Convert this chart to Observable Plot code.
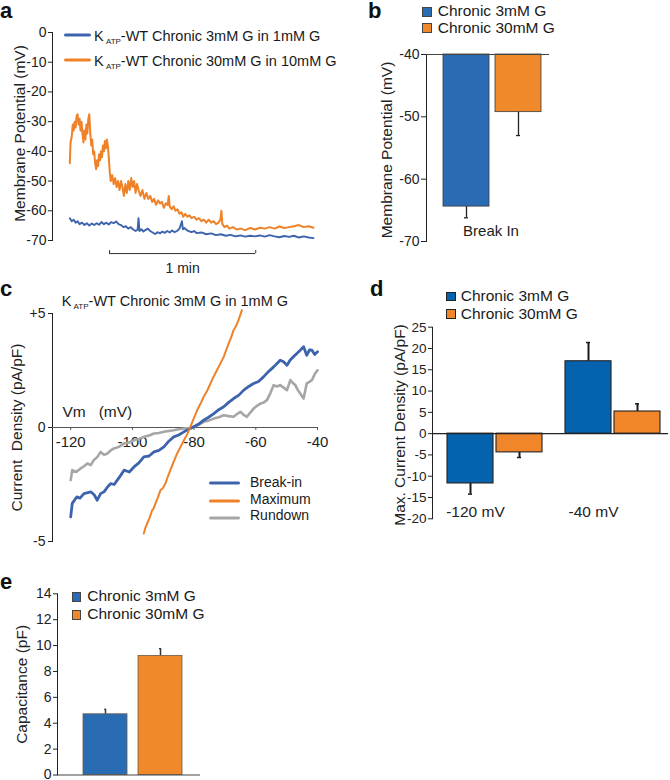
<!DOCTYPE html>
<html><head><meta charset="utf-8">
<script src="https://cdn.jsdelivr.net/npm/d3@7"></script>
<script src="https://cdn.jsdelivr.net/npm/@observablehq/plot@0.6"></script>
<style>
body{margin:0;background:#fff;}
#root{position:relative;width:670px;height:780px;overflow:hidden;background:#fff;font-family:"Liberation Sans",Arial,sans-serif;color:#1a1a1a;}
.t{position:absolute;white-space:nowrap;line-height:1;transform:translateY(-50%);}
.lbl{position:absolute;font-weight:bold;font-size:22px;line-height:1;color:#111;}
.sw{position:absolute;box-sizing:border-box;border:1px solid #444;}
.ln{position:absolute;height:3px;border-radius:1.5px;transform:translateY(-50%);}
.sub{font-size:8px;position:relative;top:3px;}
</style></head><body><div id="root"></div>
<script>
// ---------- DATA ----------
// Panel a: membrane potential traces [time (s), mV]
const traceA3 = [[0,-62.5],[0.8,-63.5],[1.6,-63],[2.4,-64],[3.2,-63.5],[4,-64.5],[5,-64],[6,-64.8],[7,-64.2],[8,-65],[9,-64.3],[10,-64.8],[11,-64.2],[12,-64.7],[13,-63.8],[14,-64.5],[15,-64],[16,-64.6],[17,-63.8],[18,-64.2],[19,-63.6],[20,-64.5],[21,-64.8],[22,-65.5],[23,-65.2],[24,-66],[25,-65.5],[26,-66.3],[27,-66.8],[27.8,-66.4],[28.2,-62.5],[28.6,-66.8],[29.4,-66.2],[30.2,-67],[31,-66.5],[32,-66],[33,-66.8],[34,-67.3],[35,-67.8],[36,-67.2],[37,-67.6],[38,-67],[39,-67.4],[40,-66.8],[41,-67.3],[42,-66.6],[43,-67.2],[44,-66.8],[45,-66],[46,-63.5],[46.4,-66.2],[47,-65.8],[48,-66.5],[49,-66.9],[50,-67.2],[51,-66.8],[52,-67.5],[54,-67.3],[56,-67.9],[58,-67.6],[60,-68.2],[62,-67.9],[64,-68.4],[66,-68.1],[68,-68.6],[70,-68.3],[72,-68.7],[74,-68.4],[76,-68.6],[78,-68.3],[80,-68.7],[82,-68.2],[84,-68.6],[86,-68.9],[88,-68.5],[90,-68.8],[92,-68.4],[94,-69],[96,-68.6],[98,-69],[100,-69.2]];
const traceA30 = [[0,-44],[0.3,-37],[0.8,-35],[1.2,-31],[1.6,-33],[2,-30],[2.4,-32],[2.8,-28],[3.2,-27.5],[3.6,-31],[4,-29],[4.4,-33],[4.8,-30],[5.2,-34],[5.6,-37],[6,-33],[6.4,-36],[6.8,-31],[7.2,-34],[7.6,-29],[8,-27.5],[8.4,-34],[8.8,-38],[9.2,-36],[9.6,-41],[10,-40],[10.4,-44],[10.8,-46],[11.2,-43],[11.6,-45],[12,-41],[12.4,-43],[12.8,-40],[13.2,-42],[13.6,-38],[14,-40],[14.4,-36.5],[14.8,-39],[15.2,-36],[15.6,-38],[16,-42],[16.4,-47],[16.8,-50],[17.4,-48],[18,-51],[18.6,-49],[19.2,-52],[19.8,-50],[20.4,-53],[21,-50],[21.6,-52],[22.2,-55],[22.8,-51],[23.4,-54],[24,-50],[24.6,-53],[25.2,-49],[25.8,-52],[26.4,-50],[27,-54],[27.6,-51],[28.2,-53],[29,-55],[29.8,-53],[30.6,-56],[31.4,-54],[32.2,-56],[33,-55],[33.8,-57],[34.6,-56],[35.4,-58],[36.2,-56.5],[37,-57.5],[37.8,-57],[38.6,-59],[39.4,-57.5],[40.2,-58],[40.6,-55],[41,-58.5],[41.8,-59.5],[42.6,-58.5],[43.4,-60],[44.2,-59.5],[45,-61],[45.8,-60.5],[46.6,-62],[47.4,-61],[48.2,-62],[49,-61.5],[50,-62.5],[51,-62],[52,-63],[53,-62.5],[54,-63.5],[55,-63],[56,-64],[57,-63],[58,-64],[59,-63.5],[60,-64.5],[61,-64],[61.8,-63],[62.2,-60],[62.6,-64.5],[63.5,-65.5],[64.5,-65],[65.5,-66],[67,-65.5],[68.5,-66.3],[70,-66],[72,-66.5],[74,-65.8],[76,-66.3],[78,-65.7],[80,-66],[82,-65.5],[84,-66],[86,-65.3],[88,-65.8],[90,-65.5],[92,-65.2],[94,-64.8],[96,-65.5],[98,-65.2],[100,-65.7]];
const aYTicks = [0,-10,-20,-30,-40,-50,-60,-70];
const aLegend = ["Chronic 3mM G in 1mM G","Chronic 30mM G in 10mM G"];

// Panel b: break-in membrane potential (mV)
const bSeries = ["Chronic 3mM G","Chronic 30mM G"];
const bValues = [-64.4,-49.25];
const bErrors = [1.8,3.75];
const bYTicks = [-40,-50,-60,-70];

// Panel c: I-V curves [mV, pA/pF]
const ivBreakIn = [[-120,-3.92],[-119.5,-3.33],[-118,-3.04],[-117,-3.1],[-115.7,-2.9],[-113.5,-2.82],[-112.4,-2.95],[-111.4,-3.19],[-110.3,-2.9],[-109.2,-2.82],[-108,-2.6],[-107,-2.46],[-105.9,-2.5],[-104.9,-2.31],[-103.8,-2.1],[-102.7,-1.87],[-101,-1.95],[-99.5,-1.73],[-97.9,-1.55],[-96.3,-1.29],[-94.6,-1.25],[-93,-1.07],[-91.4,-1],[-89.8,-0.85],[-88.2,-0.6],[-86.6,-0.41],[-85,-0.33],[-83.3,-0.19],[-81.7,-0.08],[-80.1,0.03],[-78.5,0.15],[-76.9,0.32],[-75.3,0.45],[-73.6,0.61],[-72,0.78],[-70.4,0.91],[-68.8,1.1],[-67.2,1.27],[-65.5,1.42],[-63.9,1.64],[-62.3,1.8],[-60.7,1.93],[-59.1,2.02],[-57.5,2.22],[-55.9,2.45],[-54.2,2.66],[-53.2,2.8],[-52.1,2.95],[-51,2.88],[-49.9,2.73],[-48.9,2.95],[-47.8,3.1],[-46.7,3.25],[-45.6,3.39],[-44.5,3.54],[-43.5,3.17],[-42.6,3.4],[-41.8,3.39],[-40.9,3.2],[-40,3.32]];
const ivMaximum = [[-96.3,-4.65],[-95.8,-4.4],[-95.2,-4.21],[-94.4,-3.95],[-93.6,-3.63],[-93.1,-3.55],[-92.5,-3.33],[-91.7,-3.05],[-90.9,-2.75],[-90.1,-2.65],[-89.3,-2.46],[-88.5,-2.15],[-87.7,-1.87],[-86.6,-1.5],[-85.5,-1.14],[-84.4,-0.85],[-83.3,-0.56],[-82.2,-0.28],[-81.2,0.03],[-80.1,0.4],[-79,0.76],[-77.9,1.05],[-76.9,1.35],[-75.8,1.6],[-74.7,1.93],[-73.6,2.25],[-72.6,2.51],[-71.5,2.8],[-70.4,3.1],[-69.6,3.4],[-68.8,3.68],[-68,3.95],[-67.2,4.27],[-66.4,4.45],[-65.6,4.71],[-65,4.95],[-64.5,5.15]];
const ivRundown = [[-120,-2.31],[-119.5,-1.87],[-118.2,-1.95],[-116.8,-1.8],[-115.7,-1.7],[-114.6,-1.58],[-113.5,-1.65],[-112.5,-1.43],[-111.4,-1.3],[-110.3,-1.07],[-109.2,-1.2],[-108.1,-1.14],[-107,-1.0],[-106,-0.92],[-104.4,-0.85],[-102.7,-0.7],[-101.1,-0.66],[-99.5,-0.56],[-97.9,-0.5],[-96.3,-0.41],[-94.6,-0.35],[-93,-0.26],[-91.4,-0.24],[-89.8,-0.19],[-88.2,-0.15],[-86.6,-0.12],[-85,-0.08],[-83.3,-0.04],[-81.7,-0.02],[-80.1,0.03],[-78.5,0.12],[-76.9,0.25],[-75.3,0.3],[-73.6,0.39],[-72,0.45],[-70.4,0.54],[-68.8,0.5],[-67.2,0.47],[-66,0.6],[-65,0.69],[-63.9,0.55],[-62.9,0.47],[-61.8,0.65],[-60.7,0.83],[-59.6,0.95],[-58.5,1.05],[-57.4,1.1],[-56.4,1.2],[-55.3,1.5],[-54.2,1.86],[-53.2,1.8],[-52.1,1.86],[-51,1.75],[-49.9,1.64],[-48.8,2.08],[-48,1.95],[-47.2,1.86],[-46.4,1.65],[-45.6,1.49],[-44.5,1.27],[-43.5,1.93],[-42.6,2.0],[-41.8,2.08],[-40.8,2.37],[-40,2.51]];
const cXTicks = [-120,-100,-80,-60,-40];
const cYTicks = [-5,0,5];
const cLegend = ["Break-in","Maximum","Rundown"];

// Panel d: max current density (pA/pF)
const dGroups = ["-120 mV","-40 mV"];
const dSeries = ["Chronic 3mM G","Chronic 30mM G"];
const dValues3 = [-11.7,17.0];
const dValues30 = [-4.4,5.2];
const dErrors3 = [2.5,4.4];
const dErrors30 = [1.2,1.8];
const dYTicks = [25,20,15,10,5,0,-5,-10,-15,-20];

// Panel e: capacitance (pF)
const eSeries = ["Chronic 3mM G","Chronic 30mM G"];
const eValues = [4.69,9.2];
const eErrors = [0.39,0.57];
const eYTicks = [0,2,4,6,8,10,12,14];

// ---------- STYLE ----------
const FONT = '"Liberation Sans", Arial, sans-serif';
const baseStyle = {fontFamily: FONT, fontSize: "14px", color: "#222", background: "none", overflow: "visible"};
const traceBlue = "#3d63ad", traceOrange = "#ef8229", traceGrey = "#a6a6a6";
const barBlue = "#2a6cb4", barOrange = "#f0892b";
const dBlue = "#0563ae", dOrange = "#f0852a";
const yLabel = {rotate: -90, textAnchor: "middle", lineAnchor: "middle", fontSize: 15.5, fill: "#222"};

const root = document.getElementById("root");
function place(svg, left, top) {
  svg.style.position = "absolute";
  svg.style.left = left + "px";
  svg.style.top = top + "px";
  root.appendChild(svg);
}
function addDiv(cls, html, left, top, extra) {
  const d = document.createElement("div");
  d.className = cls;
  d.innerHTML = html;
  d.style.left = left + "px";
  d.style.top = top + "px";
  if (extra) Object.assign(d.style, extra);
  root.appendChild(d);
  return d;
}
const fmt = d => String(d);

// ---------- PANEL A ----------
const aXDomain = [-7.1, 100];
const scaleBar = {t1: 16.3, t2: 76.3, y: -74.4};
place(Plot.plot({
  width: 335, height: 280, marginLeft: 52, marginRight: 22, marginTop: 32, marginBottom: 40,
  x: {domain: aXDomain, axis: null},
  y: {domain: [-70, 0], ticks: aYTicks, tickSize: 4, tickPadding: 2, tickFormat: fmt, label: null, line: true},
  style: baseStyle,
  marks: [
    Plot.line(traceA3, {x: d => d[0], y: d => d[1], stroke: traceBlue, strokeWidth: 1.9}),
    Plot.line(traceA30, {x: d => d[0], y: d => d[1], stroke: traceOrange, strokeWidth: 2}),
    Plot.ruleY([scaleBar], {y: "y", x1: "t1", x2: "t2", stroke: "#333", strokeWidth: 1}),
    Plot.ruleX([scaleBar.t1, scaleBar.t2], {x: d => d, y1: scaleBar.y, y2: scaleBar.y + 1, stroke: "#333"}),
    Plot.text(["1 min"], {x: (scaleBar.t1 + scaleBar.t2) / 2, y: scaleBar.y, dy: 15, fontSize: 14, fill: "#222"}),
    Plot.text(["Membrane Potential (mV)"], {frameAnchor: "left", dx: -32, dy: -3, ...yLabel})
  ]
}), 0, 0);

// ---------- PANEL B ----------
const bData = bSeries.map((s, i) => ({series: s, value: bValues[i], err: bErrors[i]}));
const bBase = bYTicks[0];
place(Plot.plot({
  width: 330, height: 280, marginLeft: 86, marginRight: 121, marginTop: 54, marginBottom: 39,
  x: {domain: bSeries, paddingInner: 0.125, paddingOuter: 0.232, align: 0.65, axis: null},
  y: {domain: [-70, -40], ticks: bYTicks, tickSize: 5, tickPadding: 2, tickFormat: fmt, label: null, line: true},
  color: {domain: bSeries, range: [barBlue, barOrange]},
  style: baseStyle,
  marks: [
    Plot.ruleX(bData, {x: "series", y1: "value", y2: d => d.value - d.err, stroke: "#222", strokeWidth: 1.3}),
    Plot.tickY(bData, {x: "series", y: d => d.value - d.err, insetLeft: 21, insetRight: 21, stroke: "#222", strokeWidth: 1.3}),
    Plot.barY(bData, {x: "series", y1: bBase, y2: "value", fill: "series", stroke: "#3a3a3a", strokeWidth: 0.8}),
    Plot.ruleY([bBase], {stroke: "#444", strokeWidth: 1.2}),
    Plot.text(["Break In"], {frameAnchor: "bottom", dx: 3, dy: -6, fontSize: 15, fill: "#222"}),
    Plot.text(["Membrane Potential (mV)"], {frameAnchor: "left", dx: -39.5, dy: 2, ...yLabel})
  ]
}), 340, 0);

// ---------- PANEL C ----------
const cXDomain = [-125.9, -40];
const cTickLen = -0.13;
place(Plot.plot({
  width: 335, height: 275, marginLeft: 52, marginRight: 18, marginTop: 28, marginBottom: 19,
  x: {domain: cXDomain, axis: null},
  y: {domain: [-5, 5], ticks: cYTicks, tickSize: 4, tickPadding: 3, tickFormat: d => d > 0 ? "+" + d : String(d), label: null, line: true},
  style: baseStyle,
  marks: [
    Plot.ruleY([0], {stroke: "#555", strokeWidth: 1.2}),
    Plot.ruleX(cXTicks, {x: d => d, y1: 0, y2: cTickLen, stroke: "#555"}),
    Plot.text(cXTicks, {x: d => d, y: 0, dy: 15, text: d => String(d), fontSize: 15, fill: "#222"}),
    Plot.line(ivRundown, {x: d => d[0], y: d => d[1], stroke: traceGrey, strokeWidth: 2.6}),
    Plot.line(ivBreakIn, {x: d => d[0], y: d => d[1], stroke: traceBlue, strokeWidth: 2.8}),
    Plot.line(ivMaximum, {x: d => d[0], y: d => d[1], stroke: traceOrange, strokeWidth: 2}),
    Plot.text(["Vm\u00a0\u00a0\u00a0(mV)"], {frameAnchor: "left", y: 0, dx: 10, dy: -15, textAnchor: "start", fontSize: 15.5, fill: "#222"}),
    Plot.text(["Current\u00a0 Density (pA/pF)"], {frameAnchor: "left", dx: -35, ...yLabel})
  ]
}), 0, 285);

// ---------- PANEL D ----------
const dData = [];
dGroups.forEach((g, i) => {
  dData.push({group: g, series: dSeries[0], value: dValues3[i], err: dErrors3[i]});
  dData.push({group: g, series: dSeries[1], value: dValues30[i], err: dErrors30[i]});
});
const errEnd = d => d.value + Math.sign(d.value) * d.err;
place(Plot.plot({
  width: 330, height: 250, marginLeft: 92, marginRight: 2, marginTop: 46.7, marginBottom: 11.7,
  fx: {domain: dGroups, padding: 0, axis: null, label: null},
  x: {domain: dSeries, paddingInner: 0.07, paddingOuter: 0.222, align: 0.636, axis: null},
  y: {domain: [-20, 25], ticks: dYTicks, tickSize: 4, tickPadding: 2, tickFormat: fmt, label: null, line: true},
  color: {domain: dSeries, range: [dBlue, dOrange]},
  style: {...baseStyle, fontSize: "13.5px"},
  marks: [
    Plot.ruleX(dData, {fx: "group", x: "series", y1: "value", y2: errEnd, stroke: "#1a1a1a", strokeWidth: 2}),
    Plot.tickY(dData, {fx: "group", x: "series", y: errEnd, insetLeft: 21, insetRight: 21, stroke: "#1a1a1a", strokeWidth: 1.5}),
    Plot.barY(dData, {fx: "group", x: "series", y: "value", fill: "series", stroke: "#222", strokeWidth: 1.1}),
    Plot.ruleY([0], {stroke: "#222", strokeWidth: 1.1}),
    Plot.text(dGroups, {fx: d => d, text: d => d, frameAnchor: "bottom", dx: -16, dy: -2, fontSize: 15.5, fill: "#222"}),
    Plot.text(["Max. Current Density (pA/pF)"], {fx: () => dGroups[0], frameAnchor: "left", dx: -32, dy: 2, ...yLabel})
  ]
}), 340, 280);

// ---------- PANEL E ----------
const eData = eSeries.map((s, i) => ({series: s, value: eValues[i], err: eErrors[i]}));
place(Plot.plot({
  width: 335, height: 220, marginLeft: 57, marginRight: 135, marginTop: 33.3, marginBottom: 5.5,
  x: {domain: eSeries, paddingInner: 0.2, paddingOuter: 0.393, align: 0.58, axis: null},
  y: {domain: [0, 14], ticks: eYTicks, tickSize: 4, tickPadding: 2, tickFormat: fmt, label: null, line: true},
  color: {domain: eSeries, range: [barBlue, barOrange]},
  style: baseStyle,
  marks: [
    Plot.ruleX(eData, {x: "series", y1: "value", y2: d => d.value + d.err, stroke: "#333", strokeWidth: 1.5}),
    Plot.tickY(eData, {x: "series", y: d => d.value + d.err, insetLeft: 21, insetRight: 21, stroke: "#333", strokeWidth: 1.2}),
    Plot.barY(eData, {x: "series", y: "value", fill: "series", stroke: "#6a5a4a", strokeWidth: 0.8}),
    Plot.ruleY([0], {stroke: "#444", strokeWidth: 1.2}),
    Plot.text(["Capacitance (pF)"], {frameAnchor: "left", dx: -35.3, ...yLabel})
  ]
}), 0, 560);

// ---------- LEGENDS & LABELS (HTML) ----------
addDiv("lbl", "a", 0, 0);
addDiv("lbl", "b", 368, 0);
addDiv("lbl", "c", 0, 278);
addDiv("lbl", "d", 370, 278);
addDiv("lbl", "e", 0, 570.7);

const kAtp = 'K<span class="sub">\u00a0ATP</span>-WT ';
// a legend
addDiv("ln", "", 64, 34.5, {width: "27px", background: traceBlue});
addDiv("ln", "", 64, 59.5, {width: "27px", background: traceOrange});
addDiv("t", kAtp + aLegend[0], 94, 35.5, {fontSize: "14.5px"});
addDiv("t", kAtp + aLegend[1], 94, 60.5, {fontSize: "14.5px"});

// b legend
[barBlue, barOrange].forEach((c, i) => {
  addDiv("sw", "", 421.7, 6.7 + i * 16, {width: "10px", height: "10px", background: c});
  addDiv("t", bSeries[i], 437.7, 11 + i * 16.5, {fontSize: "15.5px"});
});

// c title & legend
addDiv("t", kAtp + aLegend[0], 61.7, 300.5, {fontSize: "14.5px"});
[traceBlue, traceOrange, traceGrey].forEach((c, i) => {
  addDiv("ln", "", 208.5, 483.3 + i * 17.5, {width: "31px", background: c});
  addDiv("t", cLegend[i], 250, 482 + i * 16.7, {fontSize: "14px"});
});

// d legend
[dBlue, dOrange].forEach((c, i) => {
  addDiv("sw", "", 446, 291.7 + i * 17.6, {width: "9.5px", height: "9.5px", background: c, borderColor: "#222"});
  addDiv("t", dSeries[i], 460.7, 296 + i * 17.5, {fontSize: "15.5px"});
});

// e legend
[barBlue, barOrange].forEach((c, i) => {
  addDiv("sw", "", 71.7, 591.7 + i * 18.3, {width: "9.5px", height: "10px", background: c});
  addDiv("t", eSeries[i], 87.3, 596 + i * 18, {fontSize: "15.5px"});
});
</script>
</body></html>
